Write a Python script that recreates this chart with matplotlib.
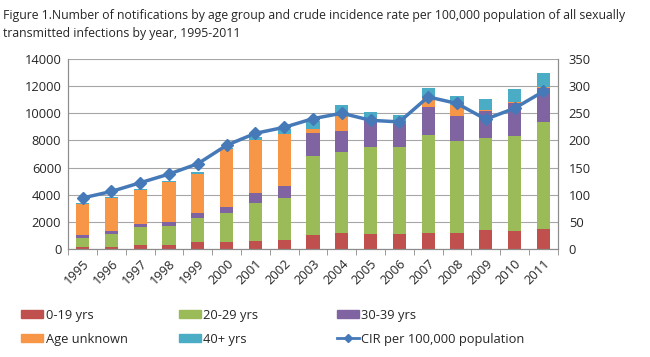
import matplotlib.pyplot as plt
import numpy as np
from matplotlib.patches import Patch
from matplotlib.lines import Line2D

plt.rcParams['font.family'] = ['Open Sans', 'DejaVu Sans']

years = ['1995', '1996', '1997', '1998', '1999', '2000', '2001', '2002', '2003',
         '2004', '2005', '2006', '2007', '2008', '2009', '2010', '2011']
age_0_19 = [150, 150, 270, 320, 490, 540, 615, 640, 1010,
            1180, 1110, 1110, 1180, 1160, 1380, 1330, 1500]
age_20_29 = [690, 980, 1330, 1350, 1800, 2090, 2785, 3120, 5830,
             5930, 6420, 6370, 7210, 6790, 6760, 7010, 7820]
age_30_39 = [170, 170, 250, 300, 390, 470, 730, 890, 1700,
             1600, 2060, 1720, 2040, 1820, 2020, 2390, 2510]
age_unknown = [2300, 2460, 2480, 2970, 2860, 4230, 3890, 3810, 320,
               1130, 60, 100, 790, 830, 70, 70, 70]
age_40_plus = [50, 80, 100, 100, 140, 120, 250, 370, 560,
               760, 410, 540, 660, 670, 790, 1010, 1060]
cir = [94, 106, 122, 138, 157, 191, 213, 224, 240,
       250, 237, 234, 280, 268, 239, 259, 290]

series = [
    ('0-19 yrs', age_0_19, '#C0504D'),
    ('20-29 yrs', age_20_29, '#9BBB59'),
    ('30-39 yrs', age_30_39, '#8064A2'),
    ('Age unknown', age_unknown, '#F79646'),
    ('40+ yrs', age_40_plus, '#4BACC6'),
]
line_color = '#4579B8'
text_color = '#262626'
axis_color = '#8C8C8C'

fig = plt.figure(figsize=(6.5, 3.57), dpi=100)
ax = fig.add_axes([0.105, 0.3025, 0.753, 0.5325])
x = np.arange(len(years))

bottom = np.zeros(len(years))
for label, vals, color in series:
    ax.bar(x, vals, width=0.46, bottom=bottom, color=color, zorder=2)
    bottom += np.array(vals)

ax.set_ylim(0, 14000)
ax.set_yticks(range(0, 14001, 2000))
ax.set_xlim(-0.5, len(years) - 0.5)
ax.grid(axis='y', color='#A6A6A6', linewidth=0.8, zorder=0)
ax.set_axisbelow(True)
ax.set_xticks(x)
ax.set_xticklabels(years, rotation=45, ha='right', rotation_mode='anchor')
ax.set_xticks(np.arange(-0.5, len(years), 1), minor=True)
ax.tick_params(axis='x', which='major', length=0, pad=6, labelsize=9.3, colors=text_color)
ax.tick_params(axis='x', which='minor', length=4, color=axis_color)
ax.tick_params(axis='y', length=0, pad=5, labelsize=9.3, colors=text_color)
ax.spines['top'].set_visible(False)
for s in ['left', 'bottom', 'right']:
    ax.spines[s].set_color(axis_color)

ax2 = ax.twinx()
ax2.plot(x, cir, color=line_color, linewidth=2.5, marker='D', markersize=6, zorder=5)
ax2.set_ylim(0, 350)
ax2.set_yticks(range(0, 351, 50))
ax2.tick_params(axis='y', length=0, pad=8, labelsize=9.3, colors=text_color)
ax2.spines['top'].set_visible(False)
for s in ['left', 'bottom', 'right']:
    ax2.spines[s].set_color(axis_color)

fig.text(0.005, 0.975, 'Figure 1.Number of notifications by age group and crude incidence rate per 100,000 population of all sexually\n'
         'transmitted infections by year, 1995-2011', ha='left', va='top', fontsize=8.85,
         color=text_color, linespacing=1.55)

# legend, one column at a time
handles = [Patch(color=c) for _, _, c in series]
handles.append(Line2D([], [], color=line_color, linewidth=2, marker='D', markersize=4.5))
labels = [s[0] for s in series] + ['CIR per 100,000 population']
cols = [(0, 3), (1, 4), (2, 5)]
xs = [0.033, 0.275, 0.518]
for (i, j), xpos in zip(cols, xs):
    fig.legend([handles[i], handles[j]], [labels[i], labels[j]], loc='upper left',
               bbox_to_anchor=(xpos, 0.135), frameon=False, fontsize=9.3,
               handlelength=1.7, handleheight=0.6, handletextpad=0.2,
               labelspacing=0.85, borderpad=0, borderaxespad=0, labelcolor=text_color)

fig.savefig('out.png', dpi=100)
